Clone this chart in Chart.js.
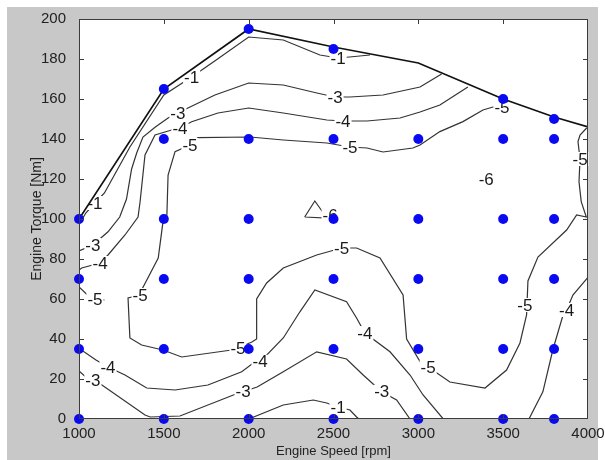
<!DOCTYPE html>
<html>
<head>
<meta charset="utf-8">
<script src="https://cdn.jsdelivr.net/npm/chart.js@4.4.0/dist/chart.umd.min.js"></script>
<style>
  html, body { margin: 0; padding: 0; background: #fff; }
  #wrap { width: 605px; height: 460px; }
</style>
</head>
<body>
<div id="wrap"><canvas id="mapChart" width="605" height="460"></canvas></div>
<script>
// Axis ticks
const speedTicks = [1000, 1500, 2000, 2500, 3000, 3500, 4000];
const torqueTicks = [0, 20, 40, 60, 80, 100, 120, 140, 160, 180, 200];

// Measured operating points (rpm -> torque list)
const pointSpeeds = [1000, 1500, 2000, 2500, 3000, 3500, 3800];
const pointTorques = [
  [0, 35, 70, 100],
  [0, 35, 70, 100, 140, 165],
  [0, 35, 70, 100, 140, 195],
  [0, 35, 70, 100, 140, 185],
  [0, 35, 70, 100, 140],
  [0, 35, 70, 100, 140, 160],
  [0, 35, 70, 100, 140, 150]
];

// Full load curve [rpm, Nm]
const maxTorqueCurve = [[1000, 100], [1500, 165], [2000, 195], [2500, 186], [3000, 178], [3500, 160], [3800, 151], [4000, 146]];

// Contour lines [rpm, Nm]
const contourM1Top = [[1000, 97], [1040, 103], [1094, 108], [1150, 113], [1300, 136], [1500, 162], [1664, 171], [1800, 179], [2000, 191], [2204, 189.5], [2420, 182], [2527, 180.5], [2594, 181], [2715, 182]];
const contourM1Bottom = [[2000, 0], [2204, 7], [2381, 9.5], [2460, 8], [2527, 6], [2597, 4.5], [2636, 1], [2650, 0]];
const contourM3Top = [[1000, 84], [1082, 87], [1171, 93.6], [1240, 101], [1280, 110], [1310, 125], [1340, 133], [1377, 141], [1450, 146], [1525, 150.5], [1583, 153], [1642, 155.5], [1801, 162], [2000, 168], [2204, 167], [2402, 163], [2509, 161], [2597, 161], [2792, 162], [3010, 166], [3137, 172.5]];
const contourM3Bottom = [[1000, 24], [1040, 21], [1082, 19.5], [1135, 17], [1389, 2], [1420, 1], [1595, 1.5], [1910, 12], [1967, 13.6], [2050, 16], [2204, 23.6], [2401, 33.6], [2577, 30], [2675, 22], [2784, 13.6], [2872, 9.5], [2951, 0]];
const contourM4Top = [[1000, 74.5], [1016, 75.5], [1124, 78], [1171, 82], [1271, 92], [1348, 101], [1360, 108.6], [1389, 132], [1448, 142], [1546, 144.5], [1595, 145.5], [1664, 148.6], [1819, 153], [2000, 155.5], [2204, 153], [2461, 149.5], [2556, 149], [2697, 149], [2892, 150.5], [3010, 153.5], [3127, 157], [3292, 166]];
const contourM4Bottom = [[1000, 35], [1006, 35], [1100, 29.5], [1171, 26], [1271, 22], [1399, 15.5], [1566, 14.5], [1760, 17], [1959, 23.6], [2037, 28.6], [2067, 28.6], [2204, 40.5], [2302, 53.6], [2390, 64.5], [2577, 58.6], [2636, 50.5], [2685, 43], [2833, 33.6], [2951, 22], [3028, 12], [3147, 0]];
const contourM4Right = [[3652, 0], [3734, 13.6], [3794, 35], [3853, 52], [3874, 54.5], [3911, 62], [3992, 70], [4000, 71]];
const contourM5 = [[3520, 159], [3493, 156], [3440, 156], [3381, 154.5], [3263, 148.7], [3127, 143.7], [3010, 137], [2968, 135.5], [2792, 133.5], [2697, 135.5], [2597, 136], [2461, 138], [2204, 139.5], [2008, 141], [1701, 140.7], [1654, 137], [1566, 133.7], [1525, 122], [1518, 102], [1495, 98.6], [1467, 80.5], [1369, 64.5], [1360, 62], [1289, 60.5], [1300, 40.5], [1369, 37], [1495, 34.5], [1605, 31], [1900, 34.5], [1937, 35.5], [2019, 38.5], [2047, 40], [2047, 60], [2106, 68], [2204, 75.5], [2401, 82], [2548, 85.5], [2636, 85.5], [2774, 80.5], [2910, 62], [2931, 40], [3010, 28.7], [3058, 26], [3186, 18.5], [3393, 15.5], [3520, 24.5], [3599, 38], [3638, 52], [3646, 69], [3705, 81], [3874, 94.5], [3933, 102], [3990, 101], [3960, 108.7], [3947, 118.6], [3953, 130], [3941, 138.7], [3953, 142], [3992, 145.5]];
const contourM5Left = [[1000, 66], [1050, 62], [1094, 60], [1150, 59.5]];
const contourM6 = [[2330, 101], [2390, 109], [2440, 103], [2460, 100.5], [2330, 101]];

// Contour labels [text, rpm, Nm]
const contourLabels = [
  ['-1', 1094, 108], ['-1', 1664, 171], ['-1', 2527, 180.5], ['-1', 2527, 6],
  ['-3', 1082, 87], ['-3', 1583, 153], ['-3', 2509, 161], ['-3', 1082, 19.5], ['-3', 1967, 13.6], ['-3', 2784, 13.6],
  ['-4', 1124, 78], ['-4', 1595, 145.5], ['-4', 2556, 149], ['-4', 1171, 26], ['-4', 2067, 28.6], ['-4', 2685, 43], ['-4', 3874, 54.5],
  ['-5', 1654, 137], ['-5', 2597, 136], ['-5', 3493, 156], ['-5', 1360, 62], ['-5', 1937, 35.5], ['-5', 2548, 85.5],
  ['-5', 3058, 26], ['-5', 3628, 57], ['-5', 3953, 130], ['-5', 1094, 60],
  ['-6', 2480, 102], ['-6', 3400, 120]
];

const toXY = pts => pts.map(p => ({ x: p[0], y: p[1] }));

const dotData = [];
pointSpeeds.forEach((s, i) => {
  pointTorques[i].forEach(t => dotData.push({ x: s, y: t }));
});

const contours = [contourM1Top, contourM1Bottom, contourM3Top, contourM3Bottom, contourM4Top, contourM4Bottom,
  contourM4Right, contourM5, contourM5Left, contourM6];

const FONT = '"Liberation Sans", Arial, sans-serif';

function lineSet(pts, color, width) {
  return {
    data: toXY(pts),
    showLine: true,
    borderColor: color,
    borderWidth: width,
    pointRadius: 0,
    tension: 0,
    fill: false
  };
}

// Plugin: figure background, contour labels, axes box with inward ticks
const matlabFrame = {
  id: 'matlabFrame',
  beforeDraw(chart) {
    const { ctx, chartArea: a } = chart;
    ctx.save();
    ctx.fillStyle = '#fff';
    ctx.fillRect(0, 0, chart.width, chart.height);
    ctx.fillStyle = '#c8c8c8';
    ctx.fillRect(7, 7, 591, 453);
    ctx.fillStyle = '#fff';
    ctx.fillRect(a.left, a.top, a.right - a.left, a.bottom - a.top);
    ctx.restore();
  },
  beforeDatasetDraw(chart, args) {
    // datasets paint from last to first: labels go after the contours,
    // before the full-load curve (1) and the dots (0)
    if (args.index !== 1) return;
    const { ctx, scales: { x, y } } = chart;
    ctx.save();
    ctx.font = '17px ' + FONT;
    ctx.textAlign = 'center';
    ctx.textBaseline = 'middle';
    contourLabels.forEach(([txt, s, t]) => {
      const px = x.getPixelForValue(s);
      const py = y.getPixelForValue(t);
      const w = ctx.measureText(txt).width;
      ctx.fillStyle = '#fff';
      ctx.fillRect(px - w / 2 - 1, py - 7, w + 2, 14);
      ctx.fillStyle = '#1a1a1a';
      ctx.fillText(txt, px, py + 1);
    });
    ctx.restore();
  },
  afterDraw(chart) {
    const { ctx, chartArea: a, scales: { x, y } } = chart;
    ctx.save();
    ctx.strokeStyle = '#3c3c3c';
    ctx.lineWidth = 1;
    ctx.strokeRect(a.left + 0.5, a.top + 0.5, a.right - a.left - 1, a.bottom - a.top - 1);
    ctx.beginPath();
    speedTicks.slice(1, -1).forEach(v => {
      const px = Math.round(x.getPixelForValue(v)) + 0.5;
      ctx.moveTo(px, a.bottom); ctx.lineTo(px, a.bottom - 5);
      ctx.moveTo(px, a.top); ctx.lineTo(px, a.top + 5);
    });
    torqueTicks.slice(1, -1).forEach(v => {
      const py = Math.round(y.getPixelForValue(v)) + 0.5;
      ctx.moveTo(a.left, py); ctx.lineTo(a.left + 5, py);
      ctx.moveTo(a.right, py); ctx.lineTo(a.right - 5, py);
    });
    ctx.stroke();
    ctx.restore();
  }
};

const ctx = document.getElementById('mapChart').getContext('2d');
new Chart(ctx, {
  type: 'scatter',
  data: {
    datasets: [
      {
        data: dotData,
        pointRadius: 5,
        pointHoverRadius: 5,
        backgroundColor: '#0a0af2',
        borderWidth: 0,
        clip: false
      },
      lineSet(maxTorqueCurve, '#111', 1.7),
      ...contours.map(c => lineSet(c, '#333', 1.2))
    ]
  },
  options: {
    responsive: false,
    animation: false,
    devicePixelRatio: 1,
    layout: { padding: { left: 0, top: 19, right: 17, bottom: 0 } },
    plugins: {
      legend: { display: false },
      tooltip: { enabled: false }
    },
    scales: {
      x: {
        type: 'linear',
        position: 'bottom',
        min: 1000,
        max: 4000,
        afterBuildTicks: s => { s.ticks = speedTicks.map(v => ({ value: v })); },
        afterFit: s => { s.height = 41; },
        ticks: { color: '#222', padding: -2, font: { family: FONT, size: 15 }, callback: v => String(v) },
        grid: { display: false },
        border: { display: false },
        title: {
          display: true,
          text: 'Engine Speed [rpm]',
          color: '#222',
          font: { family: FONT, size: 13 },
          padding: { top: 0, bottom: 1 }
        }
      },
      y: {
        type: 'linear',
        position: 'left',
        min: 0,
        max: 200,
        afterBuildTicks: s => { s.ticks = torqueTicks.map(v => ({ value: v })); },
        afterFit: s => { s.width = 79; },
        ticks: { color: '#222', padding: 5, font: { family: FONT, size: 15 }, callback: v => String(v) },
        grid: { display: false },
        border: { display: false },
        title: {
          display: true,
          text: 'Engine Torque [Nm]',
          color: '#222',
          font: { family: FONT, size: 14 },
          padding: { top: 29, bottom: 0 }
        }
      }
    }
  },
  plugins: [matlabFrame]
});
</script>
</body>
</html>
